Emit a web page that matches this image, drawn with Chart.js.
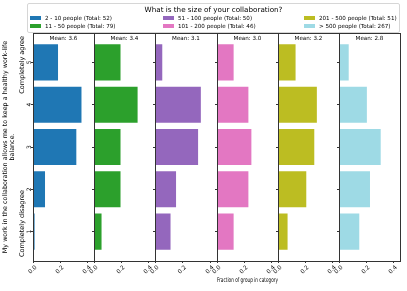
<!DOCTYPE html>
<html>
<head>
<meta charset="utf-8">
<script src="https://cdn.jsdelivr.net/npm/chart.js@4.4.0/dist/chart.umd.min.js"></script>
<style>
  body { margin: 0; background: #fff; font-family: "DejaVu Sans", sans-serif; color: #000; }
  #wrap { position: relative; width: 407px; height: 291px; overflow: hidden; }
  #wrap canvas { position: absolute; left: 0; top: 0; }
  #legend { position: absolute; left: 27px; top: 3px; width: 371px; height: 28px;
            border: 1px solid #d6d6d6; border-radius: 2px; background: rgba(255,255,255,0.8); }
  #legend .ttl { position: absolute; left: 0; right: 0; top: 1px; text-align: center;
                 font-size: 7.2px; line-height: 9px; }
  #legend .item { position: absolute; font-size: 5.6px; line-height: 8px; white-space: nowrap; }
  #legend .sw { position: absolute; width: 11px; height: 4px; }
</style>
</head>
<body>
<div id="wrap">
  <div id="legend"><div class="ttl">What is the size of your collaboration?</div></div>
</div>
<script>
// survey groups (collaboration size)
var groups = ['2 - 10 people', '11 - 50 people', '51 - 100 people',
              '101 - 200 people', '201 - 500 people', '> 500 people'];
var totals = [52, 79, 50, 46, 51, 267];
var means = [3.6, 3.4, 3.1, 3.0, 3.2, 2.8];

// answer levels 1..5 and the tick labels
var levels = [1, 2, 3, 4, 5];
var levelLabels = ['1', '2', '3', '4', '5'];
var xTicks = [0, 0.2, 0.4];

// fraction of each group answering 1..5
var share_2_10    = [0.019, 0.096, 0.327, 0.365, 0.192];
var share_11_50   = [0.063, 0.203, 0.203, 0.329, 0.203];
var share_51_100  = [0.120, 0.160, 0.320, 0.340, 0.060];
var share_101_200 = [0.130, 0.239, 0.261, 0.239, 0.130];
var share_201_500 = [0.078, 0.216, 0.275, 0.294, 0.137];
var share_500     = [0.157, 0.236, 0.315, 0.213, 0.079];
var shares = [share_2_10, share_11_50, share_51_100, share_101_200, share_201_500, share_500];

var colors = ['#1f77b4', '#2ca02c', '#9467bd', '#e377c2', '#bcbd22', '#9edae5'];

var FONT = '"DejaVu Sans", sans-serif';
var W = 407, H = 291;
var panelLefts = [33, 94, 155, 217, 278, 339, 400];
var panelTop = 33, panelBottom = 261;
var xAxisH = H - panelBottom;

// legend, 3 columns filled column by column
var wrap = document.getElementById('wrap');
var legend = document.getElementById('legend');
var colX = [2, 135, 276];
groups.forEach(function (g, i) {
    var col = Math.floor(i / 2), row = i % 2;
    var sw = document.createElement('div');
    sw.className = 'sw';
    sw.style.background = colors[i];
    sw.style.left = colX[col] + 'px';
    sw.style.top = (12 + row * 8) + 'px';
    legend.appendChild(sw);
    var it = document.createElement('div');
    it.className = 'item';
    it.textContent = g + ' (Total: ' + totals[i] + ')';
    it.style.left = (colX[col] + 15) + 'px';
    it.style.top = (10 + row * 8) + 'px';
    legend.appendChild(it);
});

// frame, mean label, rotated y tick labels and the agree/disagree labels
var panelDeco = {
    id: 'panelDeco',
    afterDraw: function (chart, args, opts) {
        var ctx = chart.ctx, a = chart.chartArea;
        ctx.save();
        ctx.strokeStyle = '#333';
        ctx.lineWidth = 1;
        ctx.strokeRect(a.left + 0.5, a.top + 0.5, a.right - a.left, a.bottom - a.top);
        ctx.fillStyle = '#000';
        ctx.font = '5.6px ' + FONT;
        ctx.textAlign = 'center';
        ctx.textBaseline = 'top';
        ctx.fillText('Mean: ' + opts.mean.toFixed(1), (a.left + a.right) / 2, a.top + 3);
        if (opts.first) {
            var ys = chart.scales.y;
            ctx.font = '6px ' + FONT;
            ctx.textBaseline = 'middle';
            ys.ticks.forEach(function (t, k) {
                ctx.save();
                ctx.translate(a.left - 4, ys.getPixelForValue(t.value));
                ctx.rotate(-Math.PI / 2);
                ctx.fillText(levelLabels[k], 0, 0);
                ctx.restore();
            });
            ctx.font = '6.5px ' + FONT;
            ctx.translate(22.5, 0);
            ctx.rotate(-Math.PI / 2);
            ctx.textAlign = 'right';
            ctx.fillText('Completely agree', -(a.top + 3), 0);
            ctx.textAlign = 'left';
            ctx.fillText('Completely disagree', -(a.bottom - 4), 0);
        }
        ctx.restore();
    }
};

shares.forEach(function (vals, i) {
    var cv = document.createElement('canvas');
    cv.width = W; cv.height = H;
    wrap.insertBefore(cv, legend);
    var first = i === 0;
    var yW = first ? panelLefts[0] : 3;

    new Chart(cv, {
        type: 'bar',
        data: {
            datasets: [{
                label: groups[i],
                data: levels.map(function (lv, k) { return { x: vals[k], y: lv }; }),
                backgroundColor: colors[i],
                borderColor: 'rgba(255,255,255,0.45)',
                borderWidth: 1,
                barPercentage: 0.9,
                categoryPercentage: 1
            }]
        },
        options: {
            indexAxis: 'y',
            responsive: false,
            animation: false,
            events: [],
            devicePixelRatio: 1,
            layout: { padding: { left: panelLefts[i] - yW, right: W - panelLefts[i + 1], top: panelTop, bottom: 0 } },
            plugins: { legend: { display: false }, tooltip: { enabled: false }, panelDeco: { mean: means[i], first: first } },
            scales: {
                x: {
                    type: 'linear', min: 0, max: 0.45,
                    afterBuildTicks: function (s) { s.ticks = xTicks.map(function (v) { return { value: v }; }); },
                    afterFit: function (s) { s.height = xAxisH; s.paddingLeft = 0; s.paddingRight = 0; },
                    grid: { drawOnChartArea: false, tickLength: 2, color: '#333' },
                    border: { display: false },
                    ticks: {
                        minRotation: 45, maxRotation: 45, autoSkip: false, padding: 1, labelOffset: 3,
                        color: '#000', font: { family: FONT, size: 5.8 },
                        callback: function (v) { return v.toFixed(1); }
                    },
                    title: {
                        display: i === 3, text: 'Fraction of group in category', color: '#000',
                        font: { family: FONT, size: 6.6 }, padding: { top: 0, bottom: 7 }
                    }
                },
                y: {
                    type: 'linear', min: 0.305, max: 5.695,
                    offset: false,
                    afterBuildTicks: function (s) { s.ticks = levels.map(function (v) { return { value: v }; }); },
                    afterFit: function (s) { s.width = yW; s.paddingTop = 0; s.paddingBottom = 0; },
                    grid: { drawOnChartArea: false, offset: false, tickLength: 2, color: '#333' },
                    border: { display: false },
                    ticks: { display: false },
                    title: {
                        display: first, color: '#000',
                        text: ['My work in the collaboration allows me to keep a healthy work-life', 'balance.'],
                        font: { family: FONT, size: 6.4 }, padding: { top: 1.2, bottom: 0 }
                    }
                }
            }
        },
        plugins: [panelDeco]
    });
});
</script>
</body>
</html>
